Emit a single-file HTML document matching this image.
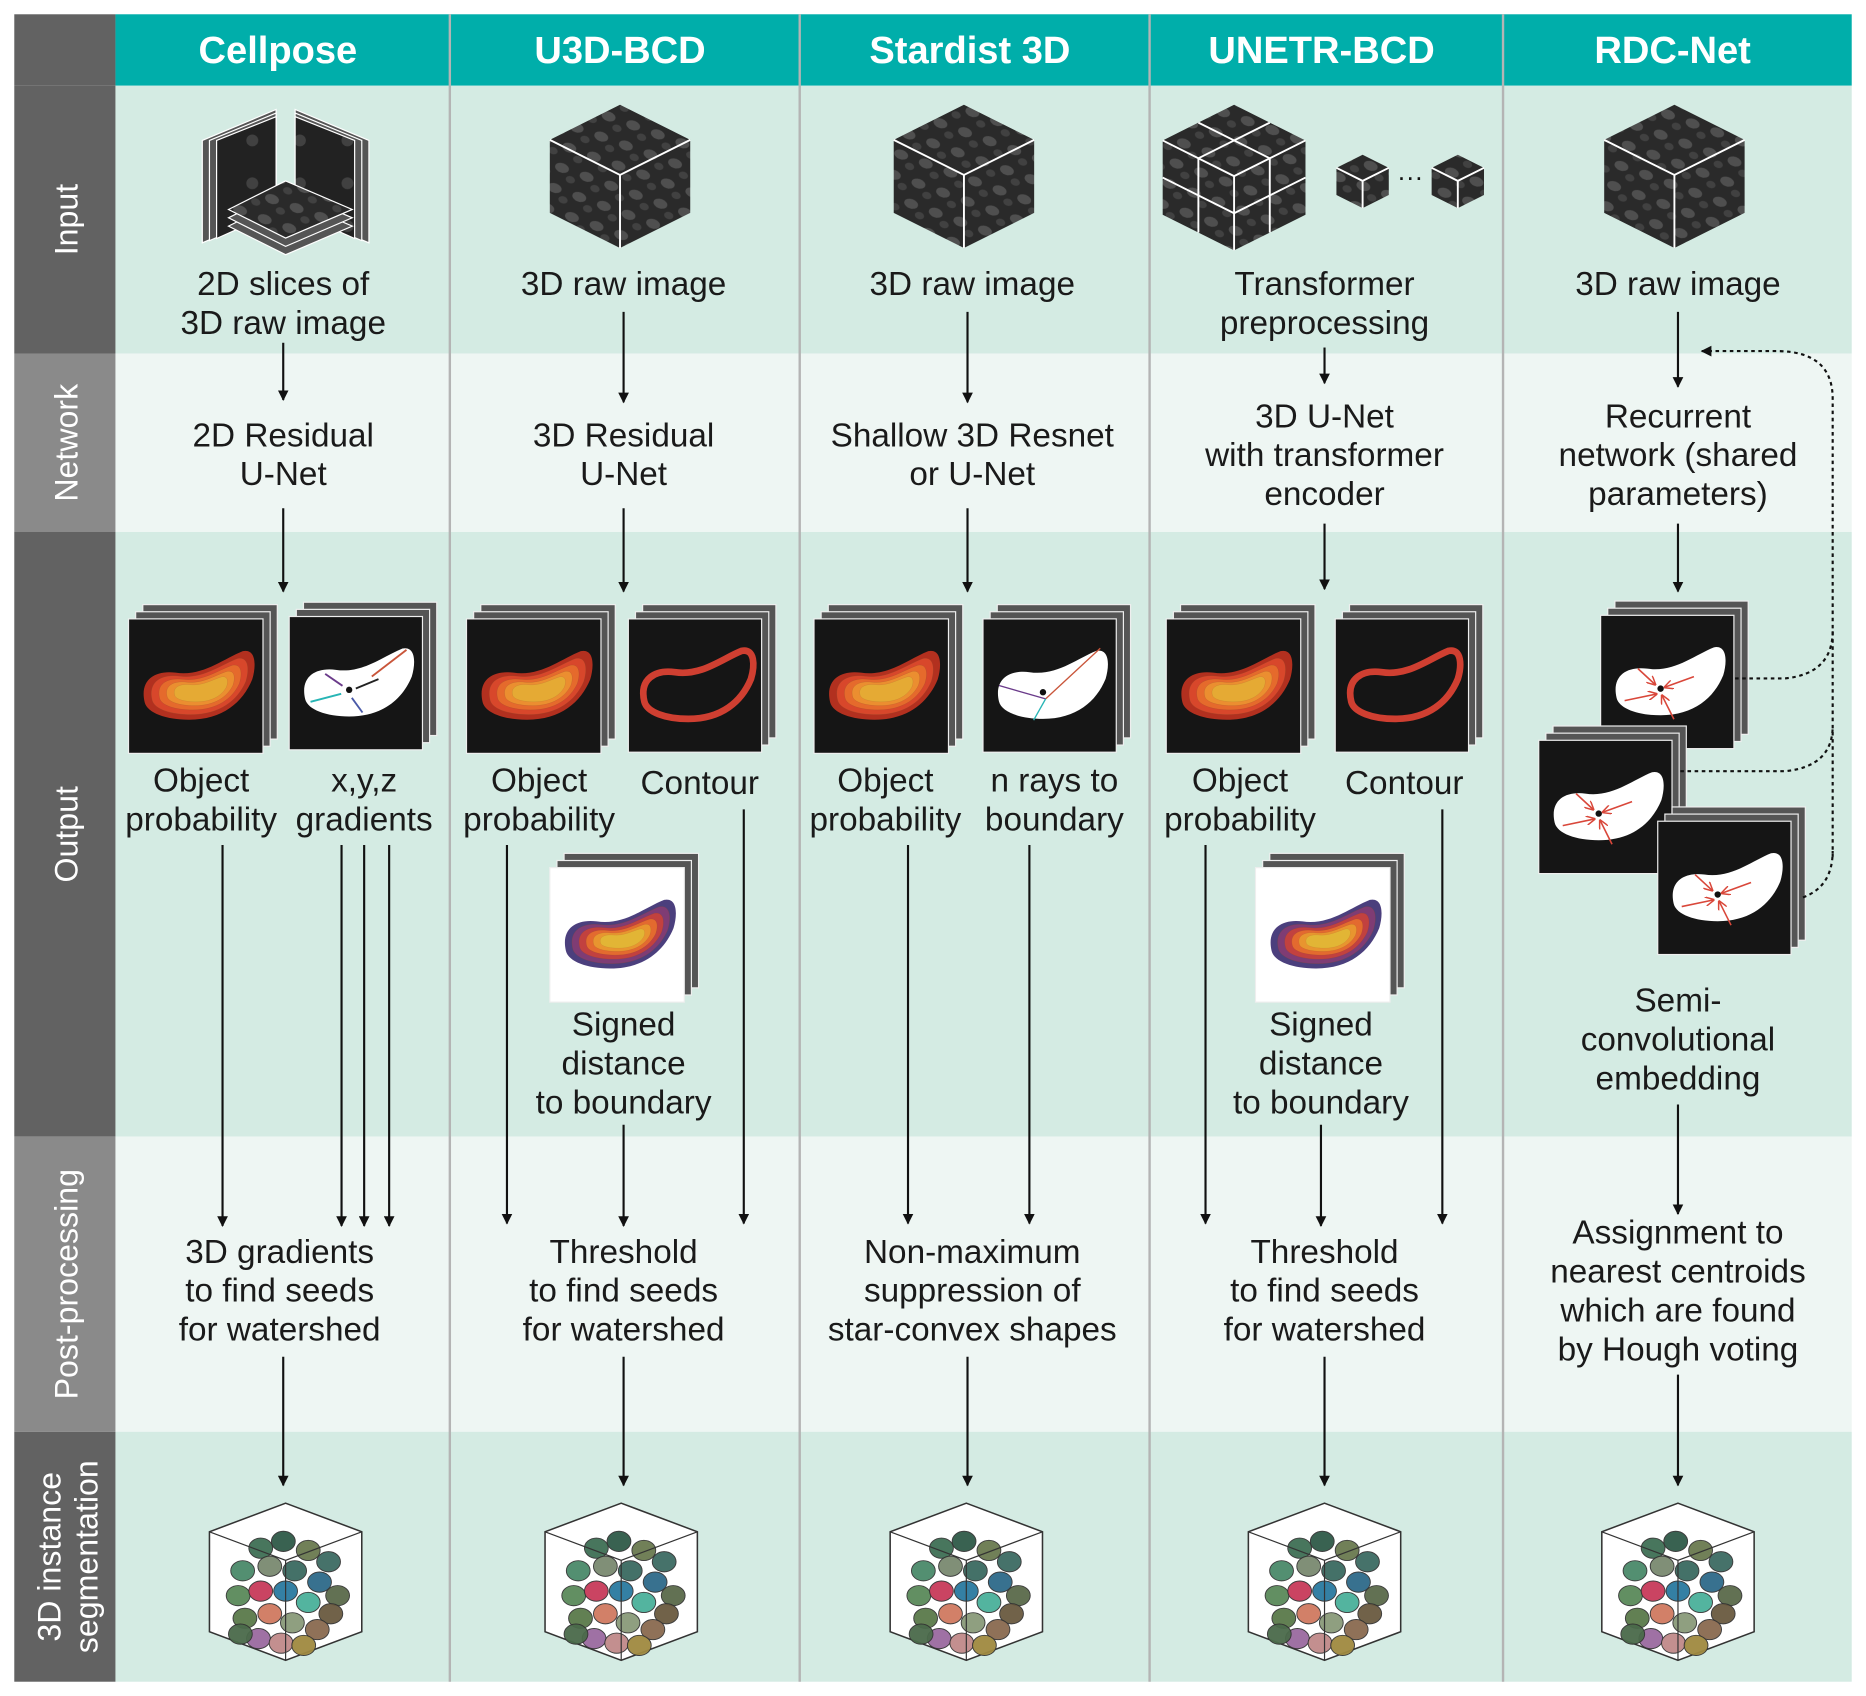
<!DOCTYPE html>
<html><head><meta charset="utf-8"><style>
html,body{margin:0;padding:0;background:#fff;}
svg{display:block;}
text{font-family:"Liberation Sans",Arial,sans-serif;}
</style></head><body>
<svg id="fig" width="1866" height="1696" viewBox="0 0 1568 1425" preserveAspectRatio="none" xmlns="http://www.w3.org/2000/svg" font-family="Liberation Sans, Arial, sans-serif">
<defs>
  <path id="blob" d="M12,62 C8,45 20,38 35,40 C55,43 70,30 85,24 C95,22 95,35 92,45 C85,62 70,75 45,75 C28,75 14,70 12,62 Z"/>
  <marker id="ah" viewBox="0 0 10 10" refX="9" refY="5" markerWidth="9" markerHeight="9" markerUnits="userSpaceOnUse" orient="auto"><path d="M0,0 L10,5 L0,10 Z" fill="#111"/></marker>
  <marker id="ahr" viewBox="0 0 10 10" refX="9" refY="5" markerWidth="7" markerHeight="7" markerUnits="userSpaceOnUse" orient="auto"><path d="M0,0 L10,5 L0,10" fill="none" stroke="#d9473a" stroke-width="1.6"/></marker>
  <pattern id="nuc" width="22" height="18" patternUnits="userSpaceOnUse" patternTransform="rotate(20)">
    <rect width="22" height="18" fill="#2a2a2a"/>
    <ellipse cx="8" cy="7" rx="6" ry="4" fill="#5e5e5e" opacity="0.7"/>
    <ellipse cx="18" cy="14" rx="4" ry="3" fill="#4a4a4a" opacity="0.7"/>
  </pattern>
  <pattern id="nuc2" width="40" height="36" patternUnits="userSpaceOnUse">
    <rect width="40" height="36" fill="#222"/>
    <circle cx="12" cy="10" r="5" fill="#555" opacity="0.6"/>
  </pattern>
</defs>
<g id="base"></g>
<g id="content"></g>
</svg>
<script>
const NS='http://www.w3.org/2000/svg';
const svg=document.getElementById('fig');
const base=document.getElementById('base');
const content=document.getElementById('content');
function mk(tag,attrs,parent){const e=document.createElementNS(NS,tag);for(const k in attrs)e.setAttribute(k,attrs[k]);(parent||content).appendChild(e);return e;}

// layout data
const methods=['Cellpose','U3D-BCD','Stardist 3D','UNETR-BCD','RDC-Net'];
const colEdges=[97,378,672,966,1263,1556];
const rowNames=['Input','Network','Output','Post-processing','3D instance segmentation'];
const rowEdges=[72,297,447,955,1203,1413];

const rowBg=['#d4ebe3','#eef6f3','#d4ebe3','#eef6f3','#d4ebe3'];
const labBg=['#626262','#8a8a8a','#626262','#8a8a8a','#626262'];
let hdr=mk('rect',{x:97,y:12,width:1459,height:60,fill:'#00aeaa'},base);


let tl=mk('rect',{x:12,y:12,width:85,height:60,fill:'#626262'},base);


for(let i=0;i<5;i++){
  let r=mk('rect',{x:97,y:rowEdges[i],width:1459,height:rowEdges[i+1]-rowEdges[i],fill:rowBg[i]},base);
  
  
  let l=mk('rect',{x:12,y:rowEdges[i],width:85,height:rowEdges[i+1]-rowEdges[i],fill:labBg[i]},base);
  
  
  const cy=(rowEdges[i]+rowEdges[i+1])/2;
  let t=mk('text',{x:0,y:0,fill:'#fff','font-size':27,'text-anchor':'middle',transform:`translate(65,${cy}) rotate(-90)`},base);
  
  
  if(i===4){
    let a=mk('tspan',{x:0,dy:-14},t);a.textContent='3D instance';
    let b=mk('tspan',{x:0,dy:31},t);b.textContent='segmentation';
  } else t.textContent=rowNames[i];
}
for(let i=1;i<5;i++){
  let d=mk('line',{x1:colEdges[i],y1:12,x2:colEdges[i],y2:1413,stroke:'#b4b4b4','stroke-width':2},base);
  
  
}
methods.forEach((m,i)=>{
  let t=mk('text',{x:(colEdges[i]+colEdges[i+1])/2-4,y:53,fill:'#fff','font-size':32,'font-weight':'bold','text-anchor':'middle'},base);
  
  
  t.textContent=m;
});

const texts=[
 [238,248,['2D slices of','3D raw image']],
 [524,248,['3D raw image']],
 [817,248,['3D raw image']],
 [1113,248,['Transformer','preprocessing']],
 [1410,248,['3D raw image']],
 [238,375,['2D Residual','U-Net']],
 [524,375,['3D Residual','U-Net']],
 [817,375,['Shallow 3D Resnet','or U-Net']],
 [1113,359,['3D U-Net','with transformer','encoder']],
 [1410,359,['Recurrent','network (shared','parameters)']],
 [169,665,['Object','probability']],
 [306,665,['x,y,z','gradients']],
 [453,665,['Object','probability']],
 [588,667,['Contour']],
 [744,665,['Object','probability']],
 [886,665,['n rays to','boundary']],
 [1042,665,['Object','probability']],
 [1180,667,['Contour']],
 [524,870,['Signed','distance','to boundary']],
 [1110,870,['Signed','distance','to boundary']],
 [1410,850,['Semi-','convolutional','embedding']],
 [235,1061,['3D gradients','to find seeds','for watershed']],
 [524,1061,['Threshold','to find seeds','for watershed']],
 [817,1061,['Non-maximum','suppression of','star-convex shapes']],
 [1113,1061,['Threshold','to find seeds','for watershed']],
 [1410,1045,['Assignment to','nearest centroids','which are found','by Hough voting']]
];
texts.forEach(tb=>{
  let t=mk('text',{x:tb[0],y:tb[1],fill:'#1a1a1a','font-size':28,'text-anchor':'middle'});
  
  
  tb[2].forEach((s,j)=>{let sp=mk('tspan',{x:tb[0],dy:j?32.7:0},t);sp.textContent=s;});
});

const arrows=[
 [238,288,336],[238,427,497],[187,710,1030],[287,710,1030],[306,710,1030],[327,710,1030],[238,1140,1248],
 [524,262,338],[524,427,497],[426,710,1028],[524,945,1030],[625,680,1028],[524,1140,1248],
 [813,262,338],[813,427,497],[763,710,1028],[865,710,1028],[813,1140,1248],
 [1113,292,322],[1113,440,495],[1013,710,1028],[1110,945,1030],[1212,680,1028],[1113,1140,1248],
 [1410,262,325],[1410,440,497],[1410,928,1020],[1410,1155,1248]
];
arrows.forEach(a=>{
  let l=mk('line',{x1:a[0],y1:a[1],x2:a[0],y2:a[2],stroke:'#111','stroke-width':1.8,'marker-end':'url(#ah)'});
  
  
});

function stack(x,y,s,kind,name){
  const g=mk('g',{});
  
  
  mk('rect',{x:x+12,y:y-12,width:s,height:s,fill:'#555',stroke:'#eee','stroke-width':1},g);
  mk('rect',{x:x+6,y:y-6,width:s,height:s,fill:'#555',stroke:'#eee','stroke-width':1},g);
  const white=kind==='sdf';
  mk('rect',{x:x,y:y,width:s,height:s,fill:white?'#fff':'#151515',stroke:'#eee','stroke-width':1},g);
  const sc=s/100;
  const inner=mk('g',{transform:`translate(${x},${y}) scale(${sc})`},g);
  if(kind==='prob'||kind==='sdf'){
    const cols=kind==='prob'?['#b2301f','#d8472b','#e56a2c','#eb8e30','#e5aa34']:['#4b3f7d','#7f3c74','#c2413f','#e36a2f','#e8952f','#e2b535'];
    cols.forEach((c,k)=>{
      const f=1-k*(kind==='prob'?0.13:0.12);
      mk('use',{href:'#blob',fill:c,stroke:k?'#8a4a2a':'none','stroke-width':k?0.4:0,'stroke-opacity':0.5,transform:`translate(55,54) scale(${f},${f*(1-k*0.06)}) translate(-55,-54)`},inner);
    });
  } else if(kind==='contour'){
    mk('use',{href:'#blob',fill:'none',stroke:'#cf3f31','stroke-width':5},inner);
  } else {
    mk('use',{href:'#blob',fill:'#fff'},inner);
    mk('circle',{cx:45,cy:55,r:2.4,fill:'#111'},inner);
    if(kind==='grad'){
      const ar=[[88,25,62,45,'#c9553a'],[67,47,50,54,'#222'],[27,43,40,52,'#6a3a8a'],[16,64,39,58,'#27b5b5'],[55,72,47,61,'#4a5aa8']];
      ar.forEach(p=>{mk('line',{x1:p[0],y1:p[1],x2:p[2],y2:p[3],stroke:p[4],'stroke-width':1.4},inner);});
    } else if(kind==='rays'){
      const ar=[[88,22,'#c9553a'],[12,50,'#6a3a8a'],[38,76,'#27b5b5']];
      ar.forEach(p=>{mk('line',{x1:p[0],y1:p[1],x2:47,y2:60,stroke:p[2],'stroke-width':1},inner);});
    } else if(kind==='emb'){
      const ar=[[70,46,48,54],[18,64,42,59],[55,78,46,60],[28,40,41,52]];
      ar.forEach(p=>{mk('line',{x1:p[0],y1:p[1],x2:p[2],y2:p[3],stroke:'#d9473a','stroke-width':1.2,'marker-end':'url(#ahr)'},inner);});
    }
  }
}
stack(108,520,113,'prob','cellpose-probability-map');
stack(243,518,112,'grad','cellpose-gradient-map');
stack(392,520,113,'prob','u3d-probability-map');
stack(528,520,112,'contour','u3d-contour-map');
stack(462,729,113,'sdf','u3d-signed-distance-map');
stack(684,520,113,'prob','stardist-probability-map');
stack(826,520,112,'rays','stardist-rays-map');
stack(980,520,113,'prob','unetr-probability-map');
stack(1122,520,112,'contour','unetr-contour-map');
stack(1055,729,113,'sdf','unetr-signed-distance-map');
stack(1345,517,112,'emb','rdc-embedding-1');
stack(1293,622,112,'emb','rdc-embedding-2');
stack(1393,690,112,'emb','rdc-embedding-3');

// dotted recurrence path
let dp=mk('path',{d:'M1540,720 L1540,335 Q1540,296 1495,295 L1430,295',fill:'none',stroke:'#111','stroke-width':1.8,'stroke-dasharray':'3,3','marker-end':'url(#ah)'});


const links=['M1458,570 L1500,570 Q1540,566 1540,530','M1412,648 L1500,648 Q1540,644 1540,610','M1515,754 Q1540,745 1540,715'];
links.forEach(d=>{
  let p=mk('path',{d:d,fill:'none',stroke:'#111','stroke-width':1.8,'stroke-dasharray':'3,3'});
  
  
});

// raw cubes
function cube(cx,y0,w,name,fill,grid){
  const g=mk('g',{});
  
  
  const h=w/2,q=w*0.25,H=w*0.52;
  const T=[cx,y0],L=[cx-h,y0+q],R=[cx+h,y0+q],C=[cx,y0+2*q],BL=[cx-h,y0+q+H],BR=[cx+h,y0+q+H],B=[cx,y0+2*q+H];
  const P=a=>a.map(p=>p.join(',')).join(' ');
  mk('polygon',{points:P([T,R,C,L]),fill:fill},g);
  mk('polygon',{points:P([L,C,B,BL]),fill:fill},g);
  mk('polygon',{points:P([C,R,BR,B]),fill:fill},g);
  const st={stroke:'#fff','stroke-width':1.6,fill:'none'};
  mk('polyline',Object.assign({points:P([L,C,R])},st),g);
  mk('line',Object.assign({x1:C[0],y1:C[1],x2:B[0],y2:B[1]},st),g);
  if(grid){
    mk('line',Object.assign({x1:(L[0]+BL[0])/2,y1:(L[1]+BL[1])/2,x2:(C[0]+B[0])/2,y2:(C[1]+B[1])/2},st),g);
    mk('line',Object.assign({x1:(C[0]+B[0])/2,y1:(C[1]+B[1])/2,x2:(R[0]+BR[0])/2,y2:(R[1]+BR[1])/2},st),g);
    mk('line',Object.assign({x1:(L[0]+C[0])/2,y1:(L[1]+C[1])/2,x2:(L[0]+C[0])/2,y2:(BL[1]+B[1])/2},st),g);
    mk('line',Object.assign({x1:(C[0]+R[0])/2,y1:(C[1]+R[1])/2,x2:(C[0]+R[0])/2,y2:(B[1]+BR[1])/2},st),g);
    mk('line',Object.assign({x1:(T[0]+L[0])/2,y1:(T[1]+L[1])/2,x2:(C[0]+R[0])/2,y2:(C[1]+R[1])/2},st),g);
    mk('line',Object.assign({x1:(T[0]+R[0])/2,y1:(T[1]+R[1])/2,x2:(L[0]+C[0])/2,y2:(L[1]+C[1])/2},st),g);
  }
}
cube(521,88,118,'u3d-input-cube','url(#nuc)');
cube(810,88,118,'stardist-input-cube','url(#nuc)');
cube(1407,88,118,'rdc-input-cube','url(#nuc)');
cube(1037,88,120,'unetr-input-cube-grid','url(#nuc)',true);
cube(1145,130,44,'unetr-patch-cube-1','url(#nuc)');
cube(1225,130,44,'unetr-patch-cube-2','url(#nuc)');
let dots=mk('text',{x:1185,y:156,'font-size':22,fill:'#111','text-anchor':'middle'});


dots.textContent='···';

// cellpose slices
(function(){
  const g=mk('g',{});
  
  
  [[0,'#555'],[6,'#555'],[12,'url(#nuc2)']].forEach(s=>{const o=s[0];
    mk('polygon',{points:`${170+o},${118} ${232},${92+o*0.5} ${232},${178} ${170+o},${204-o*0.3}`,fill:s[1],stroke:'#fff','stroke-width':1},g);});
  [[0,'#555'],[6,'#555'],[12,'url(#nuc2)']].forEach(s=>{const o=s[0];
    mk('polygon',{points:`${310-o},${118} ${248},${92+o*0.5} ${248},${178} ${310-o},${204-o*0.3}`,fill:s[1],stroke:'#fff','stroke-width':1},g);});
  [[14,'#555'],[7,'#555'],[0,'url(#nuc)']].forEach(s=>{const o=s[0];
    mk('polygon',{points:`${192},${176+o} 240,${152+o} ${296},${176+o} 240,${200+o}`,fill:s[1],stroke:'#fff','stroke-width':1},g);});
})();

// segmentation cubes
const segX=[240,522,812,1113,1410];
const blobOff=[[-22,-36],[-2,-42],[20,-34],[38,-24],[-38,-16],[-14,-20],[8,-16],[30,-6],[46,6],[-42,6],[-22,2],[0,2],[20,12],[40,22],[-36,26],[-14,22],[6,30],[28,36],[-24,44],[-4,48],[16,50],[-40,40]];
const blobCol=['#3f6f55','#2f5a48','#6a7a50','#3d6b63','#4a8a6a','#7a8a70','#3a6a60','#2e6a8a','#5a6a4a','#5a8a5a','#c83a5a','#2a7aa0','#4ab09a','#6a5a40','#5a7a4a','#d07a60','#8a9a7a','#8a6a50','#9a6aa0','#c08a8a','#a08a40','#4a6a4a'];
segX.forEach((cx,i)=>{
  const g=mk('g',{});
  
  
  const y0=1263,w=128,h=w/2,q=24,H=84;
  const pts=`${cx},${y0} ${cx+h},${y0+q} ${cx+h},${y0+q+H} ${cx},${y0+2*q+H} ${cx-h},${y0+q+H} ${cx-h},${y0+q}`;
  mk('polygon',{points:pts,fill:'#fff',stroke:'#333','stroke-width':1.3},g);
  blobOff.forEach((b,k)=>{mk('ellipse',{cx:cx+b[0]*0.95,cy:y0+72+b[1]*0.95,rx:10,ry:8.5,fill:blobCol[k],stroke:'#333','stroke-width':0.8,opacity:0.95},g);});
  mk('polyline',{points:`${cx-h},${y0+q} ${cx},${y0+2*q} ${cx+h},${y0+q}`,fill:'none',stroke:'#333','stroke-width':1},g);
  mk('line',{x1:cx,y1:y0+2*q,x2:cx,y2:y0+2*q+H,stroke:'#333','stroke-width':1},g);
});
</script>
</body></html>
